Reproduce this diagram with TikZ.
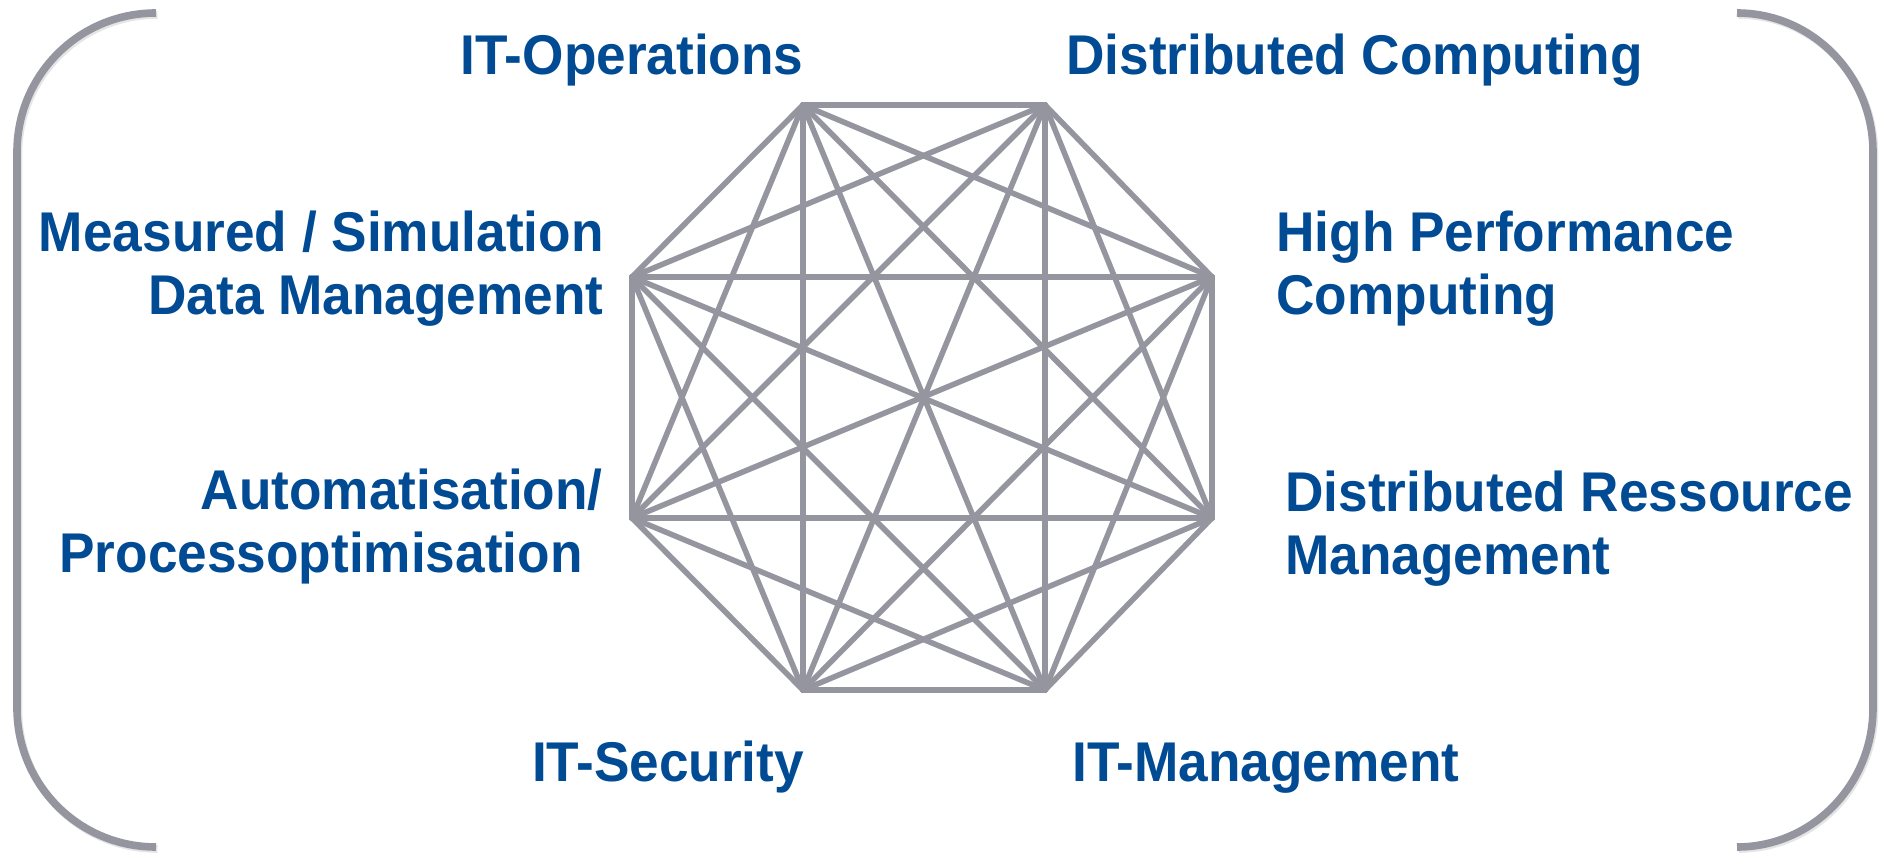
\documentclass[tikz,border=0pt]{standalone}
\usepackage{fontspec}
\newfontfamily\labelfont{Liberation Sans}[FakeStretch=0.95]
\definecolor{linegray}{HTML}{9595A0}
\definecolor{textblue}{HTML}{004B93}
\begin{document}
\begin{tikzpicture}[x=0.5pt,y=-0.5pt]
\tikzset{
  edge/.style={draw=linegray, line width=2.7pt, line cap=round},
  edgeshadow/.style={draw=black, opacity=0.16, line width=2.8pt, line cap=round},
  bracketline/.style={draw=linegray, line width=3.8pt},
  lbl/.style={text=textblue, font=\labelfont\bfseries\fontsize{28}{31.5}\selectfont, inner sep=0pt}
}
\useasboundingbox (0,0) rectangle (1887,860);
\fill[white] (0,0) rectangle (1887,860);

% brackets
\draw[draw=black, opacity=0.10, line width=3.8pt, shift={(1.5,2)}] (156,13) .. controls (79,13) and (17,75) .. (17,152) -- (17,708) .. controls (17,785) and (79,847) .. (156,847);
\draw[bracketline] (156,13) .. controls (79,13) and (17,75) .. (17,152) -- (17,708) .. controls (17,785) and (79,847) .. (156,847);
\draw[draw=black, opacity=0.10, line width=3.8pt, shift={(1.5,2)}] (1737,13) .. controls (1812,13) and (1873,75) .. (1873,152) -- (1873,708) .. controls (1873,785) and (1812,847) .. (1737,847);
\draw[bracketline] (1737,13) .. controls (1812,13) and (1873,75) .. (1873,152) -- (1873,708) .. controls (1873,785) and (1812,847) .. (1737,847);

% octagon vertices
\coordinate (v1) at (803,105);
\coordinate (v2) at (1045,105);
\coordinate (v3) at (1212,277);
\coordinate (v4) at (1212,518);
\coordinate (v5) at (1045,690);
\coordinate (v6) at (803,690);
\coordinate (v7) at (632,518);
\coordinate (v8) at (632,277);

\foreach \i in {1,...,7} {
  \pgfmathtruncatemacro\nxt{\i+1}
  \foreach \j in {\nxt,...,8} {
    \draw[edgeshadow, shift={(1.5,2.5)}] (v\i) -- (v\j);
  }
}
\foreach \i in {1,...,7} {
  \pgfmathtruncatemacro\nxt{\i+1}
  \foreach \j in {\nxt,...,8} {
    \draw[edge] (v\i) -- (v\j);
  }
}

% labels
\node[lbl, anchor=base] (itops) at (632,75) {IT-Operations};
\node[lbl, anchor=base west] (dcomp) at (1066,75) {Distributed Computing};
\node[lbl, anchor=base east, align=right] (msdm) at (604,315) {Measured / Simulation\\Data Management};
\node[lbl, anchor=base west, align=left] (hpc) at (1276,315) {High Performance\\Computing};
\node[lbl, anchor=base east, align=right] (autop) at (603,573) {Automatisation/\\Processoptimisation\hspace*{10pt}};
\node[lbl, anchor=base west, align=left] (drm) at (1285,575) {Distributed Ressource\\Management};
\node[lbl, anchor=base] (itsec) at (668,782) {IT-Security};
\node[lbl, anchor=base west] (itman) at (1072,782) {IT-Management};
\end{tikzpicture}
\end{document}
